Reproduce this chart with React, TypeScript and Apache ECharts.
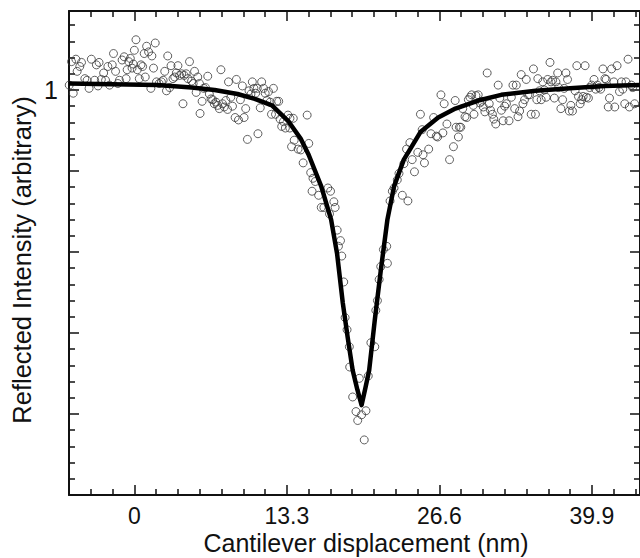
import React, { useEffect, useRef } from "react";
import * as echarts from "echarts";

// Axis extents
const X_MIN = -5.7;
const X_MAX = 44.1;
const Y_MIN = 0.5;
const Y_MAX = 1.0975;

// Tick positions and labels
const xMajorTicks = [0, 13.3, 26.6, 39.9];
const xMinorTicks = [-3.8, -1.9, 1.9, 3.8, 5.7, 7.6, 9.5, 11.4, 15.2, 17.1, 19.0, 20.9, 22.8, 24.7, 28.5, 30.4, 32.3, 34.2, 36.1, 38.0, 41.8, 43.7];
const yMajorTicks = [0.6, 0.7, 0.8, 0.9, 1.0];
const yMinorTicks = [0.52, 0.54, 0.56, 0.58, 0.62, 0.64, 0.66, 0.68, 0.72, 0.74, 0.76, 0.78, 0.82, 0.84, 0.86, 0.88, 0.92, 0.94, 0.96, 0.98, 1.02, 1.04, 1.06, 1.08];
const yLabelTicks = [1];

const xTitle = "Cantilever displacement (nm)";
const yTitle = "Reflected Intensity (arbitrary)";

// Measured points (open circles)
const scatterX = [
  -5.68, -5.48, -5.33, -5.1, -4.99, -4.76, -4.61, -4.32, -4.12, -3.95, -3.75, -3.46, -3.31, -3.17, -3.08, -2.88, -2.68, -2.51, -2.31, -2.16,
  -1.93, -1.82, -1.64, -1.44, -1.3, -1.07, -0.89, -0.72, -0.63, -0.49, -0.35, -0.2, -0.09, 0.0, 0.14, 0.26, 0.43, 0.58, 0.72, 0.86,
  0.95, 1.07, 1.24, 1.44, 1.53, 1.67, 1.82, 1.93, 2.16, 2.36, 2.51, 2.65, 2.8, 2.91, 3.08, 3.2, 3.37, 3.52, 3.66, 3.8,
  3.95, 4.12, 4.24, 4.35, 4.52, 4.67, 4.81, 4.99, 5.13, 5.25, 5.39, 5.53, 5.68, 5.73, 5.91, 6.05, 6.2, 6.4, 6.54, 6.69,
  6.83, 6.97, 7.12, 7.26, 7.41, 7.55, 7.69, 7.84, 7.98, 8.13, 8.21, 8.41, 8.56, 8.79, 8.9, 9.08, 9.25, 9.42, 9.57, 9.71,
  9.86, 10.0, 10.17, 10.29, 10.43, 10.58, 10.72, 10.78, 10.98, 11.1, 11.27, 11.41, 11.56, 11.7, 11.84, 11.96, 12.13, 12.31, 12.42, 12.59,
  12.71, 12.85, 13.0, 13.17, 13.4, 13.57, 13.86, 15.07,
  13.56, 13.94, 13.71, 14.28, 14.52, 14.72, 15.21, 15.38, 15.58, 15.78, 15.5, 16.07, 16.88, 17.11, 16.3, 16.53, 17.4, 17.51, 17.02, 17.69,
  17.98, 17.8, 18.09, 18.26, 18.38, 18.55, 18.75, 18.78, 19.04, 19.62, 19.33, 19.82, 20.2, 19.48, 20.05, 20.4, 20.63, 20.97, 21.06, 21.2,
  21.35, 21.49, 22.07, 21.72, 22.01, 22.3, 22.5, 22.65, 23.37, 23.86, 22.93, 23.08, 23.51, 23.74, 24.03, 24.23, 24.43, 24.72, 25.1, 25.3,
  25.18, 24.95,
  25.67, 25.87, 26.1, 26.33, 26.45, 26.74, 26.91, 27.02, 27.26, 27.49, 27.83, 27.98, 28.06, 28.26, 28.35, 28.47, 28.64, 28.84, 28.99, 29.13,
  29.27, 29.42, 29.56, 29.62, 29.79, 29.99, 30.14, 30.28, 30.43, 30.57, 30.77, 30.95, 31.06, 31.23, 31.35, 31.52, 31.73, 31.87, 32.01, 32.16,
  32.3, 32.45, 32.68, 32.88, 33.02, 33.17, 33.31, 33.46, 33.6, 33.74, 33.89, 34.03, 34.18, 34.32, 34.46, 34.61, 34.81, 34.98, 35.1, 35.19,
  35.33, 35.48, 35.62, 35.76, 35.91, 36.05, 36.25, 36.34, 36.48, 36.63, 36.77, 36.92, 37.0, 37.2, 37.35, 37.49, 37.64, 37.78, 37.93, 38.07,
  38.21, 38.44, 38.59, 38.73, 38.88, 39.02, 39.14, 39.31, 39.42, 39.6, 39.71, 39.89, 40.09, 40.23, 40.38, 40.52, 40.67, 40.87, 41.04, 41.15,
  41.33, 41.44, 41.62, 41.82, 41.9, 42.1, 42.31, 42.48, 42.6, 42.77, 42.88, 43.06, 43.17, 43.35, 43.46, 43.63,
];
const scatterY = [
  1.006, 1.035, 0.996, 1.038, 1.023, 1.029, 1.034, 1.014, 1.012, 1.002, 1.038, 1.012, 1.031, 1.005, 1.034, 1.013, 1.021, 1.012, 1.029, 1.006,
  1.031, 1.045, 1.023, 1.008, 1.012, 1.037, 1.041, 1.014, 1.025, 1.035, 1.039, 1.027, 1.032, 1.049, 1.062, 1.025, 1.014, 1.031, 1.029, 1.045,
  1.016, 1.054, 1.047, 1.002, 1.042, 1.027, 1.058, 1.01, 1.008, 1.01, 1.012, 1.023, 0.999, 1.042, 1.003, 1.03, 1.014, 1.016, 1.021, 1.03,
  1.018, 1.02, 0.983, 1.018, 1.02, 1.014, 1.035, 1.011, 1.008, 1.023, 0.997, 1.016, 1.008, 0.971, 0.986, 1.002, 1.003, 1.017, 0.995, 0.989,
  0.988, 0.983, 0.985, 0.981, 0.977, 1.025, 0.983, 0.979, 0.987, 0.976, 1.01, 0.991, 0.98, 0.966, 1.013, 0.963, 0.988, 1.005, 0.966, 0.977,
  0.939, 0.999, 0.995, 1.01, 1.002, 0.996, 1.002, 0.946, 0.978, 1.01, 1.002, 0.996, 0.987, 0.998, 0.985, 0.97, 1.002, 0.97, 0.986, 0.986,
  0.964, 0.955, 0.961, 0.953, 0.969, 0.965, 0.965, 0.969,
  0.953, 0.938, 0.93, 0.927, 0.926, 0.91, 0.934, 0.898, 0.891, 0.887, 0.875, 0.87, 0.879, 0.875, 0.855, 0.855, 0.862, 0.855, 0.847, 0.827,
  0.814, 0.807, 0.795, 0.763, 0.719, 0.704, 0.683, 0.658, 0.621, 0.644, 0.603, 0.599, 0.604, 0.592, 0.568, 0.647, 0.688, 0.683, 0.728, 0.74,
  0.766, 0.782, 0.786, 0.803, 0.807, 0.863, 0.875, 0.879, 0.87, 0.863, 0.889, 0.897, 0.909, 0.927, 0.935, 0.914, 0.899, 0.923, 0.951, 0.91,
  0.92, 0.97,
  0.927, 0.946, 0.966, 0.943, 0.942, 0.994, 0.947, 0.983, 0.958, 0.914, 0.93, 0.987, 0.954, 0.942, 0.954, 0.954, 0.977, 0.967, 0.966, 0.988,
  0.991, 0.994, 0.981, 0.97, 0.993, 0.994, 0.984, 0.986, 0.979, 0.973, 1.021, 0.983, 0.975, 0.97, 0.964, 0.958, 1.006, 0.99, 0.975, 0.962,
  0.98, 0.983, 0.962, 0.991, 1.006, 0.977, 1.006, 0.967, 0.974, 1.019, 0.983, 0.988, 1.013, 0.994, 0.994, 0.97, 1.026, 0.97, 0.988, 1.014,
  0.999, 0.988, 1.01, 1.0, 0.991, 1.013, 1.034, 1.01, 1.012, 0.99, 1.01, 1.021, 1.003, 0.977, 0.988, 1.002, 1.021, 1.013, 0.974, 0.981,
  0.974, 0.999, 1.03, 0.992, 0.983, 0.988, 0.992, 1.03, 0.991, 0.99, 1.003, 1.006, 1.013, 1.001, 1.006, 1.003, 1.001, 1.026, 1.014, 1.013,
  0.979, 0.99, 1.026, 1.01, 0.979, 1.03, 0.998, 1.01, 1.001, 0.983, 1.01, 1.038, 0.979, 1.006, 1.003, 0.983,
];

// Fitted curve (thick line)
const fitX = [-5.7, -2, 2, 5, 7, 9, 10.5, 12, 13.4, 14.5, 15.2, 16.3, 17.16, 17.68, 18.18, 18.6, 19.04, 19.45, 19.82, 20.15, 20.48, 20.97, 21.5, 22.07, 22.65, 23.5, 24.95, 26.5, 28, 30, 32, 35, 38, 41, 44.1];
const fitY = [1.008, 1.007, 1.006, 1.003, 1.0, 0.995, 0.989, 0.981, 0.962, 0.94, 0.92, 0.881, 0.84, 0.798, 0.737, 0.695, 0.654, 0.63, 0.611, 0.632, 0.654, 0.716, 0.778, 0.84, 0.881, 0.914, 0.948, 0.966, 0.977, 0.987, 0.994, 0.999, 1.002, 1.005, 1.006];

export default function App() {
  const ref = useRef<HTMLDivElement>(null);

  useEffect(() => {
    document.body.style.margin = "0";
    const chart = echarts.init(ref.current as HTMLDivElement, null, { renderer: "svg" });
    const font = "'Liberation Sans', Arial, sans-serif";
    const ink = "#111";
    const frameLine = { show: true, onZero: false, lineStyle: { color: ink, width: 2 } };
    const noLine = { show: false, onZero: false };
    const tickStyle = { color: ink, width: 1.5 };

    const xBase = { type: "value", min: X_MIN, max: X_MAX, splitLine: { show: false } };
    const yBase = { type: "value", min: Y_MIN, max: Y_MAX, splitLine: { show: false } };

    const option: any = {
      animation: false,
      backgroundColor: "#ffffff",
      grid: { left: 69, top: 11, width: 576, height: 484, containLabel: false },
      graphic: [
        {
          type: "text",
          x: 366,
          y: 543,
          silent: true,
          style: {
            text: xTitle,
            fill: ink,
            font: `25px ${font}`,
            align: "center",
            verticalAlign: "middle",
            lineHeight: 25,
          },
        },
        {
          type: "text",
          x: 22,
          y: 260,
          rotation: Math.PI / 2,
          silent: true,
          style: {
            text: yTitle,
            fill: ink,
            font: `25.5px ${font}`,
            align: "center",
            verticalAlign: "middle",
            lineHeight: 26,
          },
        },
      ],
      xAxis: [
        {
          ...xBase,
          position: "bottom",
          axisLine: frameLine,
          axisTick: { show: true, inside: true, length: 6, customValues: xMinorTicks, lineStyle: tickStyle },
          axisLabel: {
            show: true,
            customValues: xMajorTicks,
            formatter: (v: number) => String(v),
            fontSize: 23,
            lineHeight: 23,
            fontFamily: font,
            color: ink,
            margin: 9,
          },
        },
        {
          ...xBase,
          position: "bottom",
          axisLine: noLine,
          axisTick: { show: true, inside: true, length: 10, customValues: xMajorTicks, lineStyle: tickStyle },
          axisLabel: { show: false },
        },
        {
          ...xBase,
          position: "top",
          axisLine: frameLine,
          axisTick: { show: true, inside: true, length: 6, customValues: xMinorTicks, lineStyle: tickStyle },
          axisLabel: { show: false },
        },
        {
          ...xBase,
          position: "top",
          axisLine: noLine,
          axisTick: { show: true, inside: true, length: 10, customValues: xMajorTicks, lineStyle: tickStyle },
          axisLabel: { show: false },
        },
      ],
      yAxis: [
        {
          ...yBase,
          position: "left",
          axisLine: frameLine,
          axisTick: { show: true, inside: true, length: 6, customValues: yMinorTicks, lineStyle: tickStyle },
          axisLabel: {
            show: true,
            customValues: yLabelTicks,
            formatter: (v: number) => String(v),
            fontSize: 25,
            lineHeight: 25,
            fontFamily: font,
            color: ink,
            margin: 11,
          },
        },
        {
          ...yBase,
          position: "left",
          axisLine: noLine,
          axisTick: { show: true, inside: true, length: 10, customValues: yMajorTicks, lineStyle: tickStyle },
          axisLabel: { show: false },
        },
        {
          ...yBase,
          position: "right",
          axisLine: frameLine,
          axisTick: { show: true, inside: true, length: 6, customValues: yMinorTicks, lineStyle: tickStyle },
          axisLabel: { show: false },
        },
        {
          ...yBase,
          position: "right",
          axisLine: noLine,
          axisTick: { show: true, inside: true, length: 10, customValues: yMajorTicks, lineStyle: tickStyle },
          axisLabel: { show: false },
        },
      ],
      series: [
        {
          type: "scatter",
          xAxisIndex: 0,
          yAxisIndex: 0,
          data: scatterX.map((x, i) => [x, scatterY[i]]),
          symbol: "circle",
          symbolSize: 8,
          itemStyle: { color: "rgba(0,0,0,0)", borderColor: "#3a3a3a", borderWidth: 1 },
          silent: true,
          z: 2,
        },
        {
          type: "line",
          xAxisIndex: 0,
          yAxisIndex: 0,
          data: fitX.map((x, i) => [x, fitY[i]]),
          showSymbol: false,
          smooth: false,
          lineStyle: { color: "#000", width: 4.5, join: "round" },
          silent: true,
          z: 3,
        },
      ],
    };

    chart.setOption(option);
    return () => chart.dispose();
  }, []);

  return <div ref={ref} style={{ position: "fixed", left: 0, top: 0, width: 640, height: 558 }} />;
}
